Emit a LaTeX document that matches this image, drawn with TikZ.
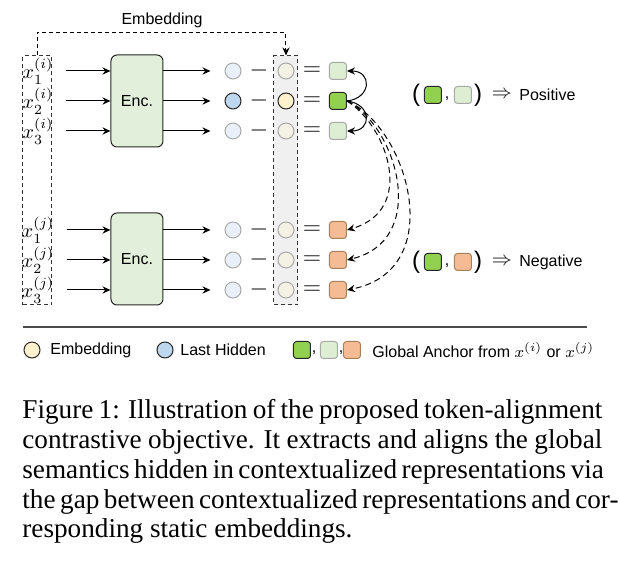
\documentclass[tikz,border=0pt]{standalone}
\usepackage{fontspec}
\setmainfont{Liberation Serif}
\setsansfont{Liberation Sans}
\usetikzlibrary{arrows.meta}

\definecolor{encgreen}{HTML}{E2EFDA}
\definecolor{hidlight}{HTML}{E9F0FA}
\definecolor{hiddark}{HTML}{BDD7EE}
\definecolor{emblight}{HTML}{F4F2E4}
\definecolor{embdark}{HTML}{FFF2CC}
\definecolor{colgray}{HTML}{F0F0F0}
\definecolor{ancdark}{HTML}{92D050}
\definecolor{anclight}{HTML}{DDEED3}
\definecolor{ancorange}{HTML}{F4BB94}
\definecolor{softgray}{HTML}{A8A8A8}

\tikzset{
  lbl/.style={font=\sffamily\fontsize{8}{9.6}\selectfont, inner sep=1.5pt},
  sym/.style={font=\fontsize{10}{12}\selectfont, inner sep=0pt},
  opsym/.style={font=\fontsize{12}{14}\selectfont, inner sep=0pt},
  paren/.style={font=\sffamily\fontsize{12}{14}\selectfont, inner sep=0pt},
  encbox/.style={draw=black!85, line width=0.5pt, fill=encgreen, rounded corners=3pt,
    minimum width=26pt, minimum height=46pt, lbl},
  dotnode/.style={circle, minimum size=8pt, inner sep=0pt, line width=0.5pt},
  hidl/.style={dotnode, draw=softgray, fill=hidlight},
  hidd/.style={dotnode, draw=black!85, fill=hiddark},
  embl/.style={dotnode, draw=softgray, fill=emblight},
  embd/.style={dotnode, draw=black!85, fill=embdark},
  sqnode/.style={rectangle, rounded corners=1.5pt, minimum size=8.5pt, inner sep=0pt, line width=0.5pt},
  ancd/.style={sqnode, draw=black!85, fill=ancdark},
  ancl/.style={sqnode, draw=softgray, fill=anclight},
  anco/.style={sqnode, draw=brown!60!gray, fill=ancorange},
  dashbox/.style={draw=black!80, line width=0.5pt, dash pattern=on 2pt off 1.5pt, inner sep=0pt},
  arr/.style={-{Stealth[length=4pt,width=3.6pt]}, line width=0.5pt},
  capline/.style={font=\fontsize{13.6}{14.8}\selectfont, anchor=base west, inner sep=0pt},
}

\begin{document}
\begin{tikzpicture}[x=0.5pt,y=-0.5pt]
  \useasboundingbox (0,0) rectangle (618,566);

  \node[dashbox, minimum width=14.5pt, minimum height=124.5pt] (inbox) at (37.5,180.5) {};
  \node[dashbox, fill=colgray, minimum width=12pt, minimum height=124.5pt] (colbox) at (286,180.5) {};
  \draw[arr, dash pattern=on 2pt off 1.5pt] (inbox.north) -- ++(0,-23) -| (colbox.north);
  \node[lbl] (embtitle) at (162,20) {Embedding};

  \node[encbox] (enci) at (137,101) {Enc.};
  \node[encbox] (encj) at (137,259) {Enc.};

  \foreach \n/\y/\s/\k/\e/\h/\m/\a in {
      i1/71/i/1/enci/hidl/embl/ancl,
      i2/101/i/2/enci/hidd/embd/ancd,
      i3/131/i/3/enci/hidl/embl/ancl,
      j1/230/j/1/encj/hidl/embl/anco,
      j2/260/j/2/encj/hidl/embl/anco,
      j3/290/j/3/encj/hidl/embl/anco}{
    \node[sym] (x\n) at (38,\y) {$x_{\k}^{(\s)}$};
    \node[\h] (h\n) at (233,\y) {};
    \node[opsym] (m\n) at (259,\y) {$-$};
    \node[\m] (e\n) at (286,\y) {};
    \node[opsym] (q\n) at (312,\y) {$=$};
    \node[\a] (a\n) at (338,\y) {};
    \draw[arr] ([xshift=6pt]x\n.east) -- (x\n -| \e.west);
    \draw[arr] (h\n -| \e.east) -- ([xshift=-7pt]h\n.west);
  }

  \draw[arr] (ai2.east) .. controls +(25,-3) and +(25,0) .. (ai1.east);
  \draw[arr] (ai2.east) .. controls +(25,3) and +(25,0) .. (ai3.east);
  \foreach \k/\p/\q in {1/40/70, 2/50/83, 3/60/103}{
    \draw[arr, dash pattern=on 3pt off 2pt] (ai2.east) .. controls +(\p,25) and +(\q,-20) .. (aj\k.east);
  }

  \foreach \r/\y/\b/\w in {pos/95/ancl/Positive, neg/262/anco/Negative}{
    \node[paren] (lp\r) at (416,\y) {(};
    \node[ancd] (ga\r) at (433,\y) {};
    \node[lbl] (cm\r) at (447,{\y+4}) {,};
    \node[\b] (gb\r) at (463,\y) {};
    \node[paren] (rp\r) at (478,\y) {)};
    \node[sym] (im\r) at (502,\y) {$\Rightarrow$};
    \node[lbl, anchor=west] (tx\r) at (516,\y) {\w};
  }

  \draw[line width=0.6pt, black!70] (23,327) -- (587,327);

  \node[embd] (lgemb) at (32,350) {};
  \node[lbl, anchor=west] (lgembt) at (47,350) {Embedding};
  \node[hidd] (lghid) at (165,350) {};
  \node[lbl, anchor=west] (lghidt) at (177,350) {Last Hidden};
  \node[ancd] (lga) at (302,350) {};
  \node[lbl] (lgc1) at (314,353) {,};
  \node[ancl] (lgb) at (329,350) {};
  \node[lbl] (lgc2) at (341,353) {,};
  \node[anco] (lgc) at (352,350) {};
  \node[lbl, anchor=west] (lgat) at (369,350) {Global Anchor from $x^{(i)}$ or $x^{(j)}$};

  \foreach \k/\y/\t in {
      1/419/{Figure 1: Illustration of the proposed token-alignment},
      2/448.7/{contrastive objective.  It extracts and aligns the global},
      3/478.4/{semantics hidden in contextualized representations via},
      4/508.1/{the gap between contextualized representations and cor-}}{
    \node[capline] (cap\k) at (22,\y) {\makebox[290pt][s]{\t}};
  }
  \node[capline] (cap5) at (22,537.8) {responding static embeddings.};
\end{tikzpicture}
\end{document}
